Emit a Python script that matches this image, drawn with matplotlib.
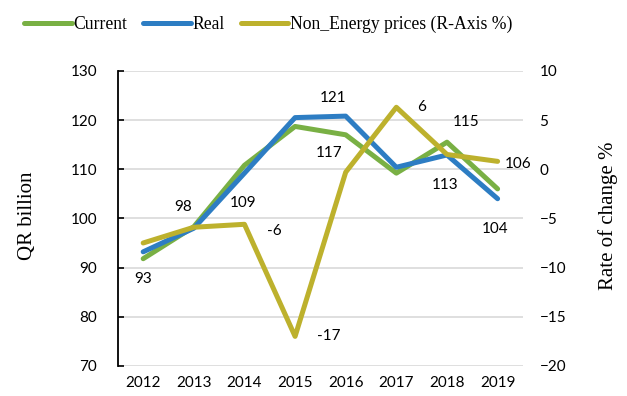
import matplotlib.pyplot as plt
import numpy as np

years = ["2012", "2013", "2014", "2015", "2016", "2017", "2018", "2019"]
current = [91.8, 98.3, 110.8, 118.7, 117, 109.2, 115.5, 106]
real = [93.2, 98, 109.2, 120.5, 120.8, 110.4, 112.9, 104]
non_energy = [-7.5, -5.9, -5.6, -17, -0.3, 6.3, 1.5, 0.8]

c_green = "#79B044"
c_blue = "#2D7DC3"
c_olive = "#BDB12D"
serif = ["Liberation Serif", "DejaVu Serif"]
sans = ["Lato", "DejaVu Sans"]

fig = plt.figure(figsize=(6.27, 3.96), dpi=100)
ax = fig.add_axes([0.188, 0.076, 0.646, 0.745])
ax2 = ax.twinx()

x = np.arange(len(years))
l1, = ax.plot(x, current, color=c_green, lw=3.6, solid_capstyle="round", zorder=3)
l2, = ax.plot(x, real, color=c_blue, lw=3.6, solid_capstyle="round", zorder=4)
l3, = ax2.plot(x, non_energy, color=c_olive, lw=3.6, solid_capstyle="round", zorder=3)

ax.set_xlim(-0.5, 7.5)
ax.set_ylim(70, 130)
ax.set_yticks(range(70, 131, 10))
ax2.set_ylim(-20, 10)
ax2.set_yticks(range(-20, 11, 5))
ax.set_xticks(x)
ax.set_xticklabels(years)

ax.grid(axis="y", color="#d9d9d9", lw=1.2)
ax.set_axisbelow(True)
for s in ["top", "right", "bottom"]:
    ax.spines[s].set_visible(False)
    ax2.spines[s].set_visible(False)
ax2.spines["left"].set_visible(False)
ax.spines["left"].set_linewidth(1.3)
ax.tick_params(axis="x", length=0, pad=7, labelsize=11)
ax.tick_params(axis="y", direction="in", length=4, width=1.2, labelsize=11, pad=15)
ax2.tick_params(axis="y", length=0, labelsize=11, pad=12)
for lab in ax.get_xticklabels() + ax.get_yticklabels() + ax2.get_yticklabels():
    lab.set_family(sans)

ax.set_ylabel("QR billion", family=serif, fontsize=15)
ax2.set_ylabel("Rate of change %", family=serif, fontsize=15)
ax.yaxis.set_label_coords(-0.2, 0.51)
ax2.yaxis.set_label_coords(1.185, 0.51)

# value tags: axis, x index, value, offset in points
def tag(axis, i, v, dx, dy):
    axis.annotate(f"{v:g}", (i, v), xytext=(dx, dy), textcoords="offset points",
                  ha="center", va="center", fontsize=11, family=sans)

tag(ax, 0, 93, 0, -19)
tag(ax, 1, 98, -8, 15)
tag(ax, 2, 109, -1, -21)
tag(ax2, 2, -6, 21.5, -2)
tag(ax, 4, 121, -9, 12)
tag(ax, 4, 117, -12, -13)
tag(ax2, 3, -17, 24, 0)
tag(ax2, 5, 6, 18, 2)
tag(ax, 6, 115, 14, 16.5)
tag(ax, 6, 113, -1.5, -22)
tag(ax, 7, 106, 15, 18)
tag(ax, 7, 104, -1.5, -21.5)

fig.legend([l1, l2, l3], ["Current", "Real", "Non_Energy prices (R-Axis %)"],
           loc="upper left", bbox_to_anchor=(0.013, 1.0), ncol=3, frameon=False,
           prop={"family": serif, "size": 12.7}, handlelength=2.7, handletextpad=0.1,
           columnspacing=0.9)

plt.savefig("out.png", dpi=100)
